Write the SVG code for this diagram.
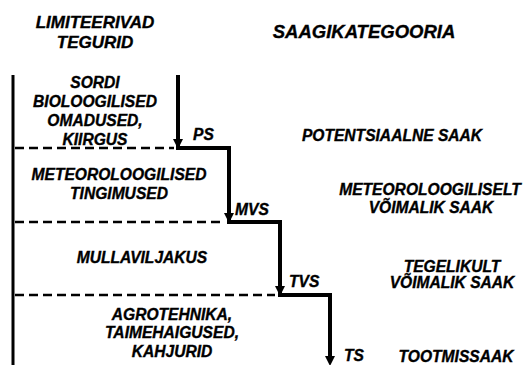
<svg xmlns="http://www.w3.org/2000/svg" width="526" height="365" viewBox="0 0 526 365">
<style>
text{font-family:"Liberation Sans",Arial,sans-serif;font-weight:bold;font-style:italic;fill:#000;stroke:#000;stroke-width:0.35}
.t{font-size:17px;text-anchor:middle}
.t2{font-size:18.5px;text-anchor:middle}
.b{font-size:15.6px;text-anchor:middle}
.l{font-size:15.6px}
.dash{stroke:#000;stroke-width:2.5;stroke-dasharray:9 5;fill:none}
.step{stroke:#000;stroke-width:4;fill:none;stroke-linejoin:miter;stroke-linecap:butt}
.axis{stroke:#000;stroke-width:3;fill:none}
</style>
<defs>
<path id="ah" d="M0,0 L-5,-10 L5,-10 Z" fill="#000"/>
</defs>
<rect width="526" height="365" fill="#fff"/>
<g id="connectors">
<line class="axis" x1="13" y1="75" x2="13" y2="365"/>
<line class="dash" x1="15" y1="148" x2="174" y2="148"/>
<line class="dash" x1="15" y1="222" x2="224" y2="222"/>
<line class="dash" x1="15" y1="295" x2="275" y2="295"/>
<path class="step" d="M178,75 V148 H229 V222 H280 V295 H330 V358"/>
<use href="#ah" x="178" y="149"/>
<use href="#ah" x="229" y="223"/>
<use href="#ah" x="280" y="296"/>
<use href="#ah" x="330" y="366"/>
</g>
<g id="title-left"><text class="t" x="95" y="28">LIMITEERIVAD</text><text class="t" x="95" y="48">TEGURID</text></g>
<g id="title-right"><text class="t2" x="364" y="38">SAAGIKATEGOORIA</text></g>
<g id="factor-1"><text class="b" x="95" y="88">SORDI</text><text class="b" x="95" y="107">BIOLOOGILISED</text><text class="b" x="95" y="126">OMADUSED,</text><text class="b" x="95" y="145">KIIRGUS</text></g>
<g id="factor-2"><text class="b" x="119" y="180">METEOROLOOGILISED</text><text class="b" x="119" y="199">TINGIMUSED</text></g>
<g id="factor-3"><text class="b" x="142" y="263">MULLAVILJAKUS</text></g>
<g id="factor-4"><text class="b" x="172" y="320">AGROTEHNIKA,</text><text class="b" x="172" y="338">TAIMEHAIGUSED,</text><text class="b" x="172" y="357">KAHJURID</text></g>
<g id="ps"><text class="l" x="193" y="140">PS</text></g>
<g id="mvs"><text class="l" x="235" y="215">MVS</text></g>
<g id="tvs"><text class="l" x="289" y="287">TVS</text></g>
<g id="ts"><text class="l" x="344" y="361">TS</text></g>
<g id="yield-1"><text class="b" x="392" y="141">POTENTSIAALNE SAAK</text></g>
<g id="yield-2"><text class="b" x="430" y="195">METEOROLOOGILISELT</text><text class="b" x="431" y="213">VÕIMALIK SAAK</text></g>
<g id="yield-3"><text class="b" x="452" y="272">TEGELIKULT</text><text class="b" x="452" y="288">VÕIMALIK SAAK</text></g>
<g id="yield-4"><text class="b" x="456" y="362">TOOTMISSAAK</text></g>
</svg>
